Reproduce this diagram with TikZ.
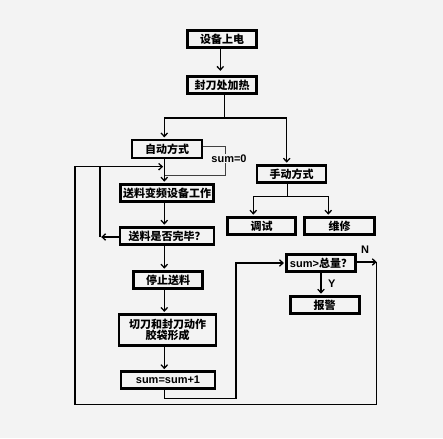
\documentclass[tikz,border=0pt]{standalone}
\usepackage{fontspec}
\setmainfont{Liberation Sans}
\newfontfamily\cjk{Noto Sans CJK SC}
\usetikzlibrary{arrows.meta}
\definecolor{bg}{HTML}{F3F3F3}
\tikzset{
  box/.style={draw=black, line width=2.8pt, fill=bg, rectangle, inner sep=0pt,
    font=\cjk\bfseries\fontsize{11}{11.5}\selectfont, align=center},
  conn/.style={line width=1.4pt, black},
  arr/.style={conn, -{Straight Barb[length=3.5pt,width=6.5pt,line width=1.3pt]}, shorten >=1.2pt},
  thinline/.style={line width=0.8pt, black!75},
  lab/.style={font=\bfseries\fontsize{11}{12}\selectfont, inner sep=0.5pt}
}
\begin{document}
\begin{tikzpicture}[x=1pt,y=-1pt]
\fill[bg] (0,0) rectangle (443,438);
\useasboundingbox (0,0) rectangle (443,438);

\node[box, minimum width=69pt, minimum height=17.5pt] (p1) at (222,39) {设备上电};
\node[box, minimum width=69pt, minimum height=17.5pt] (p2) at (222,85) {封刀处加热};
\node[box, minimum width=70pt, minimum height=18pt] (auto) at (167,149) {自动方式};
\node[box, minimum width=69pt, minimum height=17.5pt] (manual) at (291.5,174) {手动方式};
\node[box, minimum width=93pt, minimum height=17.5pt] (feed) at (167,193) {送料变频设备工作};
\node[box, minimum width=68pt, minimum height=17.5pt] (debug) at (261.5,226) {调试};
\node[box, minimum width=70pt, minimum height=17.5pt] (repair) at (339.5,226) {维修};
\node[box, minimum width=94pt, minimum height=17.5pt] (check) at (167,236) {送料是否完毕？};
\node[box, minimum width=69pt, minimum height=17.5pt] (stop) at (168,280) {停止送料};
\node[box, minimum width=97pt, minimum height=31pt] (cut) at (167.5,330) {切刀和封刀动作\\胶袋形成};
\node[box, minimum width=94pt, minimum height=16.5pt, font=\bfseries\fontsize{11}{12}\selectfont] (count) at (168,380) {sum=sum+1};
\node[box, minimum width=69pt, minimum height=16.5pt] (cmp) at (321,263) {{\rmfamily\mdseries\bfseries\fontsize{11}{12}\selectfont sum>}总量？};
\node[box, minimum width=69pt, minimum height=17.5pt] (alarm) at (324.7,305) {报警};

% helper coordinates
\coordinate (cx) at (164.3,0);
\coordinate (ax) at (220.3,0);
\coordinate (j1) at (224.3,118);
\coordinate (mx) at (286.7,0);
\coordinate (s1) at (225.7,146);
\coordinate (s2) at (225.7,175);
\coordinate (t1) at (100,166.7);
\coordinate (l2) at (100,237);
\coordinate (o1) at (75,166.7);
\coordinate (o2) at (75,404.3);
\coordinate (o3) at (376.7,404.3);
\coordinate (n1) at (376.7,262);
\coordinate (b1) at (236,398.3);
\coordinate (m1) at (287.7,196.7);
\coordinate (dx) at (253.3,0);
\coordinate (rx) at (328.3,0);
\coordinate (yx) at (321,0);

% top
\draw[arr, shorten >=4pt] (p1.south -| ax) -- (p2.north -| ax);
\draw[conn] (p2.south -| j1) -- (j1);
\draw[arr] (j1) -| (auto.north -| cx);
\draw[arr] (j1) -| (manual.north -| mx);

% sum=0 loop
\draw[thinline] (auto.east |- s1) -- (s1) -- (s2) -- (s2 -| cx);
\node[lab, fill=bg] (s0) at (229,158.5) {sum=0};

% main column
\draw[arr] (auto.south -| cx) -- (feed.north -| cx);
\draw[arr] (feed.south -| cx) -- (check.north -| cx);
\draw[arr] (check.south -| cx) -- (stop.north -| cx);
\draw[arr] (stop.south -| cx) -- (cut.north -| cx);
\draw[arr] (cut.south -| cx) -- (count.north -| cx);

% inner loop
\draw[arr] (check.west |- l2) -- (l2);
\draw[arr] (l2) |- (t1 -| cx);

% counting branch
\draw[arr] (count.south -| cx) |- (b1) |- (cmp.west);
\draw[arr, shorten >=0pt] (cmp.east |- n1) -- (n1);
\node[lab] (nl) at (365,250) {N};
\draw[conn] (n1) -- (o3) -- (o2) -- (o1) -- (t1);
\draw[arr] (cmp.south -| yx) -- (alarm.north -| yx);
\node[lab] (yl) at (331.7,284) {Y};

% manual branch
\draw[conn] (manual.south -| m1) -- (m1);
\draw[arr] (m1) -| (debug.north -| dx);
\draw[arr] (m1) -| (repair.north -| rx);
\end{tikzpicture}
\end{document}
